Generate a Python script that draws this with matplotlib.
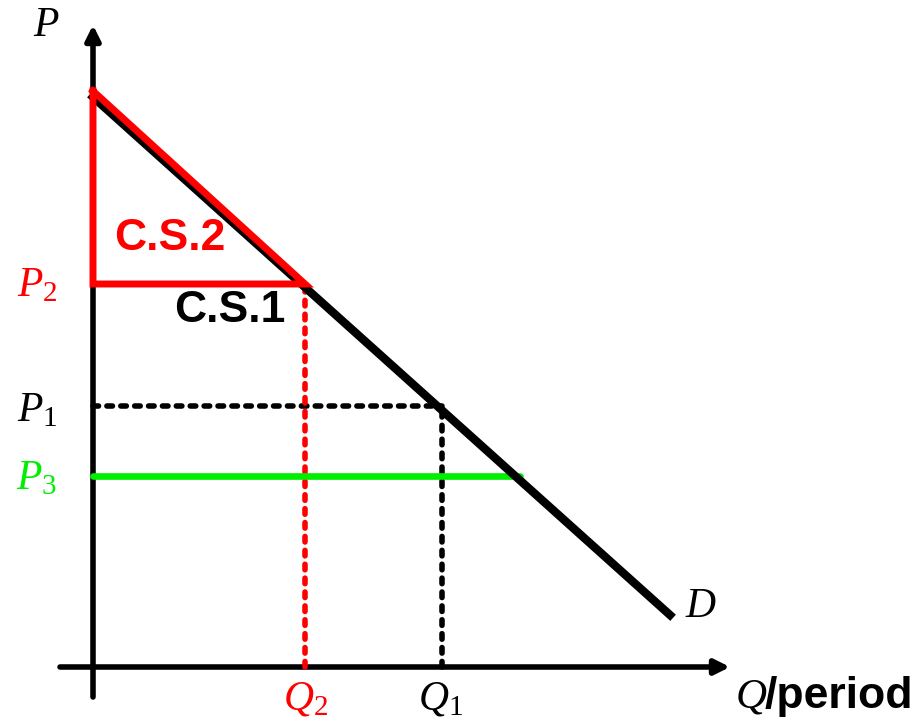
import matplotlib.pyplot as plt

plt.rcParams['mathtext.fontset'] = 'custom'
plt.rcParams['mathtext.it'] = 'Liberation Serif:italic'
plt.rcParams['mathtext.rm'] = 'Liberation Serif'


# ************************************************************
# Data (quantity / price in diagram units)
# ************************************************************

demand_q = [0, 577]
demand_p = [570, 52]

cs2_q = [0, 0, 212, 0]
cs2_p = [576, 383, 383, 576]

q1, p1 = 349, 261
q2, p2 = 212, 383
p3, q3_end = 191, 427

RED = '#ff0000'
GREEN = '#00ee00'


# ************************************************************
# Figure
# ************************************************************

fig = plt.figure(figsize=(9.18, 7.21), dpi=100)
ax = fig.add_axes([0, 0, 1, 1])
ax.set_xlim(-93, 825)
ax.set_ylim(-54, 667)
ax.axis('off')

# axes with arrows
ax.annotate('', xy=(0, 642), xytext=(0, -30),
            arrowprops=dict(arrowstyle='-|>', lw=4, color='black',
                            mutation_scale=22, shrinkA=0, shrinkB=0))
ax.annotate('', xy=(637, 0), xytext=(-33, 0),
            arrowprops=dict(arrowstyle='-|>', lw=4, color='black',
                            mutation_scale=22, shrinkA=0, shrinkB=0))

dash = (0, (1.0, 1.5))

# dashed guides
ax.plot([0, q1], [p1, p1], color='black', lw=4, ls=dash,
        dash_capstyle='round', zorder=3)
ax.plot([q1, q1], [0, p1], color='black', lw=4, ls=dash,
        dash_capstyle='round', zorder=3)
ax.plot([q2, q2], [0, p2], color=RED, lw=4, ls=dash,
        dash_capstyle='round', zorder=4)

# P3 line
ax.plot([0, q3_end], [p3, p3], color=GREEN, lw=4.8,
        solid_capstyle='round', zorder=4)

# demand
ax.plot(demand_q, demand_p, color='black', lw=6, zorder=5)

# consumer surplus triangle
ax.plot(cs2_q, cs2_p, color=RED, lw=5, solid_joinstyle='miter', zorder=6)


# ************************************************************
# Labels
# ************************************************************

serif = dict(fontsize=30, ha='center', va='center')

ax.text(-47, 643, r'$P$', **serif)
ax.text(-56, 383, r'$P_{\mathrm{2}}$', color=RED, **serif)
ax.text(-56, 258, r'$P_{\mathrm{1}}$', **serif)
ax.text(-56, 190, r'$P_{\mathrm{3}}$', color=GREEN, **serif)
ax.text(212, -43, r'$Q_{\mathrm{2}}$', color=RED, fontsize=30,
        ha='center', va='baseline')
ax.text(347, -43, r'$Q_{\mathrm{1}}$', fontsize=30,
        ha='center', va='baseline')
ax.text(608, 62, r'$D$', **serif)

ax.text(642, -41, r'$Q$', fontsize=31, ha='left', va='baseline')
ax.text(672, -41, '/period', fontsize=32, fontweight='bold',
        family='Liberation Sans', ha='left', va='baseline')

ax.text(77, 428, 'C.S.2', color=RED, fontsize=32, fontweight='bold',
        family='Liberation Sans', ha='center', va='center')
ax.text(137, 356, 'C.S.1', color='black', fontsize=32, fontweight='bold',
        family='Liberation Sans', ha='center', va='center')

fig.savefig('out.png', dpi=100)
